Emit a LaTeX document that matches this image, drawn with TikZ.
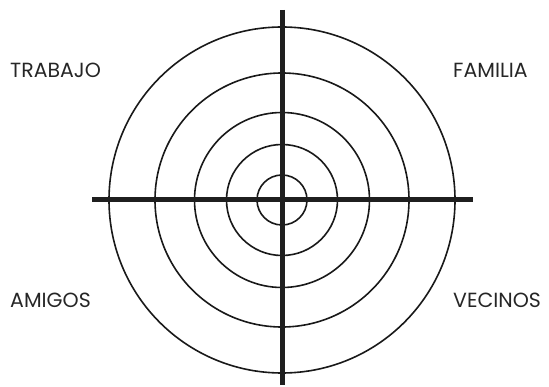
\documentclass[tikz,border=0pt]{standalone}
\usepackage{fontspec}
\setmainfont{Poppins}
\begin{document}
\begin{tikzpicture}[x=1pt,y=-1pt,
  ring/.style={draw=black!90, line width=1.6pt},
  cross/.style={draw=black!88, line width=5pt},
  lbl/.style={anchor=base west, inner sep=0pt, font=\fontsize{20.5}{20.5}\selectfont, text=black!85}]
\useasboundingbox (0,0) rectangle (549,387);
\coordinate (c) at (282,200);
\foreach \r in {25,55.5,87.5,127,173} \draw[ring] (c) circle[radius=\r];
\coordinate (top) at (282,10);
\coordinate (bot) at (282,385);
\coordinate (lft) at (92,200);
\coordinate (rgt) at (473,200);
\draw[cross] (top) -- (bot);
\draw[cross] (lft) -- (rgt);
\node[lbl] (trabajo) at (10,78) {TRABAJO};
\node[lbl] (amigos) at (10,308) {AMIGOS};
\node[lbl] (familia) at (453,78) {FAMILIA};
\node[lbl] (vecinos) at (453,308) {VECINOS};
\end{tikzpicture}
\end{document}
